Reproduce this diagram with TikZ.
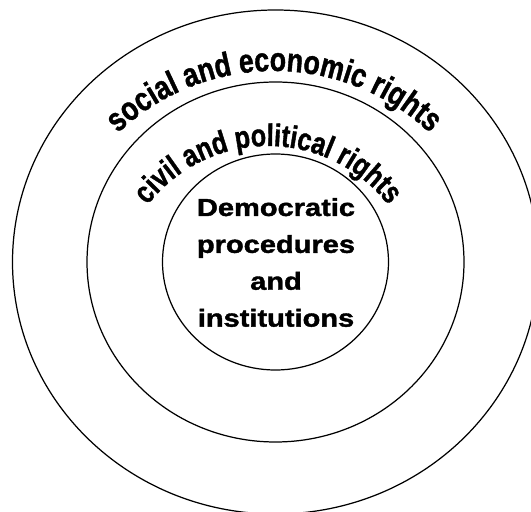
\documentclass[tikz,border=0pt]{standalone}
\usepackage{fontspec}
\setmainfont{Liberation Sans}
\usetikzlibrary{decorations.text}
\newfontfamily\coreFont[FakeStretch=1.18, FakeBold=1.6]{Liberation Sans}
\newfontfamily\arcFont[FakeStretch=0.8, FakeBold=1.2]{Liberation Sans}
\newcommand{\outerLbl}{\arcFont\bfseries\fontsize{19}{20}\selectfont}
\newcommand{\innerLbl}{\arcFont\bfseries\fontsize{17.8}{19}\selectfont}
\tikzset{
  ring/.style={draw=black, line width=0.7pt},
  coreTxt/.style={font=\coreFont\bfseries\fontsize{14}{21}\selectfont, align=center, inner sep=0pt},
  arcTxt/.style={decorate, decoration={text along path, text align=center, text={#1}}},
}
\begin{document}
\begin{tikzpicture}[x=0.02cm,y=0.02cm]
    \path[use as bounding box, clip] (0,0) rectangle (531,511);
    % rings
    \draw[ring] (275.5,249) ellipse[x radius=263, y radius=252];
    \draw[ring] (275.5,249) ellipse[x radius=188.5, y radius=180];
    \draw[ring] (275.5,249) ellipse[x radius=113, y radius=108];
    % labels
    \node[coreTxt] (core) at (276,248.5) {Democratic\\procedures\\and\\institutions};
    \path[arcTxt={|\outerLbl|social and economic rights}] (274,213) ++(160:227) arc[start angle=160, end angle=20, radius=227];
    \path[arcTxt={|\innerLbl|civil and political rights}] (268,213) ++(160:152) arc[start angle=160, end angle=20, radius=152];
\end{tikzpicture}
\end{document}
